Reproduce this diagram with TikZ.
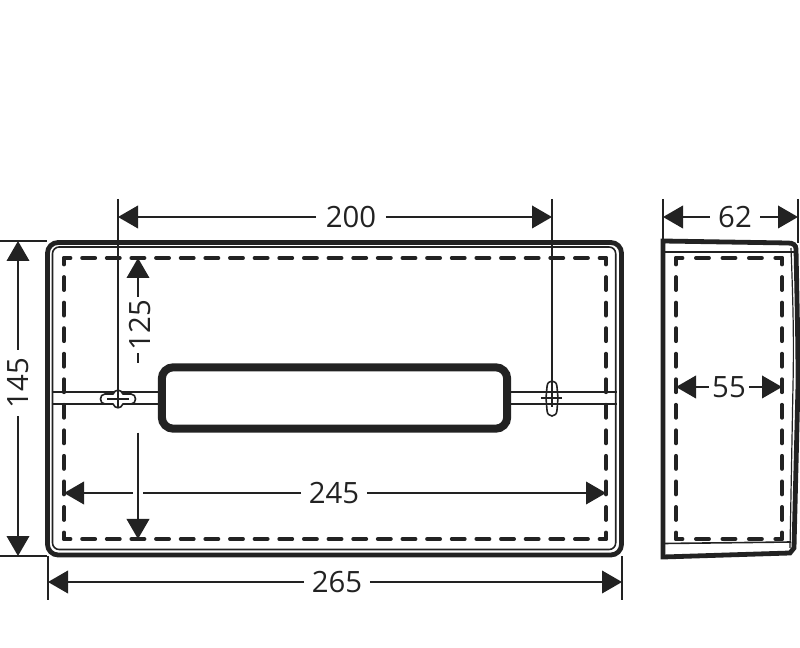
\documentclass[tikz,border=0pt]{standalone}
\usepackage{fontspec}
\setmainfont{Open Sans}
\usetikzlibrary{arrows.meta}
\definecolor{ink}{HTML}{222222}
\tikzset{
  thinline/.style={draw=ink,line width=1.2pt},
  thickline/.style={draw=ink,line width=3.6pt},
  hidden/.style={draw=ink,line width=2.9pt,line cap=round,dash pattern=on 9.75pt off #1,dash phase=4.875pt},
  dimline/.style={thinline,-{Triangle[length=15pt,width=17pt]}},
  dimtext/.style={inner ysep=0pt,text=ink,font=\fontsize{22}{22}\selectfont}
}
\begin{document}
\begin{tikzpicture}[x=0.75pt,y=-0.75pt]
  \useasboundingbox (0,0) rectangle (800,648);
  % front view
  \node[thickline,rounded corners=8pt,minimum width=430.5pt,minimum height=234.4pt] (front) at (334.5,398.75) {};
  \node[thinline,rounded corners=5pt,minimum width=422.4pt,minimum height=226.9pt] (frontin) at (334.1,398.25) {};
  \node[draw=ink,line width=6pt,rounded corners=8.5pt,minimum width=259pt,minimum height=46pt] (slot) at (334.5,398) {};
  \coordinate (hl) at (64,258);
  \coordinate (hr) at (606,258);
  \coordinate (bl) at (64,539);
  \coordinate (br) at (606,539);
  \draw[hidden=8.73pt] (hl) -- (hr);
  \draw[hidden=8.73pt] (bl) -- (br);
  \draw[hidden=9.41pt] (hl) -- (bl);
  \draw[hidden=9.41pt] (hr) -- (br);
  % band
  \foreach \y in {392,404} {
    \draw[thinline] (frontin.west |- 0,\y) -- (slot.west |- 0,\y);
    \draw[thinline] (slot.east |- 0,\y) -- (frontin.east |- 0,\y);
  }
  % keyholes
  \draw[thinline,fill=white] (105,394) -- (113,394) .. controls (115,389) and (121,389) .. (123,394) -- (131,394)
    .. controls (137,394) and (137,404) .. (131,404) -- (123,404) .. controls (121,409) and (115,409) .. (113,404)
    -- (105,404) .. controls (99,404) and (99,394) .. (105,394) -- cycle;
  \draw[thinline] (107,399) -- (129,399);
  \draw[thinline] (547,387) .. controls (547,379) and (557,379) .. (557,387) -- (558,398) -- (557,410)
    .. controls (557,418) and (547,418) .. (547,410) -- (546,398) -- cycle;
  \draw[thinline] (541,398) -- (562,398);
  % side view
  \coordinate (sta) at (663,241);
  \coordinate (stb) at (788,243);
  \coordinate (stc) at (796,249);
  \coordinate (sra) at (798,385);
  \coordinate (srb) at (794,548);
  \coordinate (sbr) at (790,553);
  \coordinate (sbl) at (663,557);
  \draw[thickline,line join=miter] (sta) -- (stb) .. controls (793,243) and (796,245) .. (stc)
    .. controls (797,300) and (798,340) .. (sra) -- (srb) -- (sbr) -- (sbl) -- cycle;
  \draw[thinline] (664,252) -- (795,252);
  \draw[thinline] (664,543.5) -- (791,542);
  \draw[line width=0.9pt,draw=ink] (791,248) .. controls (793,300) and (794,340) .. (793,385) -- (790,548);
  \coordinate (shl) at (676,258);
  \coordinate (shr) at (782,258);
  \coordinate (sbll) at (676,539);
  \coordinate (sbrr) at (782,539);
  \draw[hidden=10.1pt] (shl) -- (shr);
  \draw[hidden=10.1pt] (sbll) -- (sbrr);
  \draw[hidden=9.41pt] (shl) -- (sbll);
  \draw[hidden=9.41pt] (shr) -- (sbrr);
  % extension lines
  \draw[thinline] (118,199) -- (118,408);
  \draw[thinline] (552,199) -- (552,407);
  \draw[thinline] (663,199) -- (663,241);
  \draw[thinline] (798,199) -- (798,243);
  \draw[thinline] (0,241) -- (47,241);
  \draw[thinline] (0,556) -- (47,556);
  \draw[thinline] (48,556) -- (48,600);
  \draw[thinline] (622,556) -- (622,600);
  % dimensions
  \node[dimtext,inner xsep=7pt] (dima) at (351,217) {200};
  \draw[dimline] (dima) -- (118,217);
  \draw[dimline] (dima) -- (552,217);
  \node[dimtext,inner xsep=6pt] (dimb) at (735,217) {62};
  \draw[dimline] (dimb) -- (663,217);
  \draw[dimline] (dimb) -- (798,217);
  \node[dimtext,inner xsep=2.5pt] (dimc) at (729,387) {55};
  \draw[dimline] (dimc) -- (676,387);
  \draw[dimline] (dimc) -- (782,387);
  \node[dimtext,inner xsep=5.5pt] (dimd) at (334,493) {245};
  \draw[thinline] (dimd) -- (143,493);
  \draw[dimline] (133,493) -- (64,493);
  \draw[dimline] (dimd) -- (606,493);
  \node[dimtext,inner xsep=5.5pt] (dime) at (337,582) {265};
  \draw[dimline] (dime) -- (48,582);
  \draw[dimline] (dime) -- (622,582);
  \node[dimtext,rotate=90,inner xsep=6pt] (dimf) at (18,383) {145};
  \draw[dimline] (dimf) -- (18,241);
  \draw[dimline] (dimf) -- (18,556);
  \node[dimtext,rotate=90,inner xsep=2pt] (dimg) at (140,325) {125};
  \draw[dimline] (138,0 |- dimg.east) -- (138,258);
  \draw[thinline] (138,0 |- dimg.west) -- (138,0 |- slot.north);
  \draw[dimline] (138,0 |- slot.south) -- (138,539);
\end{tikzpicture}
\end{document}
